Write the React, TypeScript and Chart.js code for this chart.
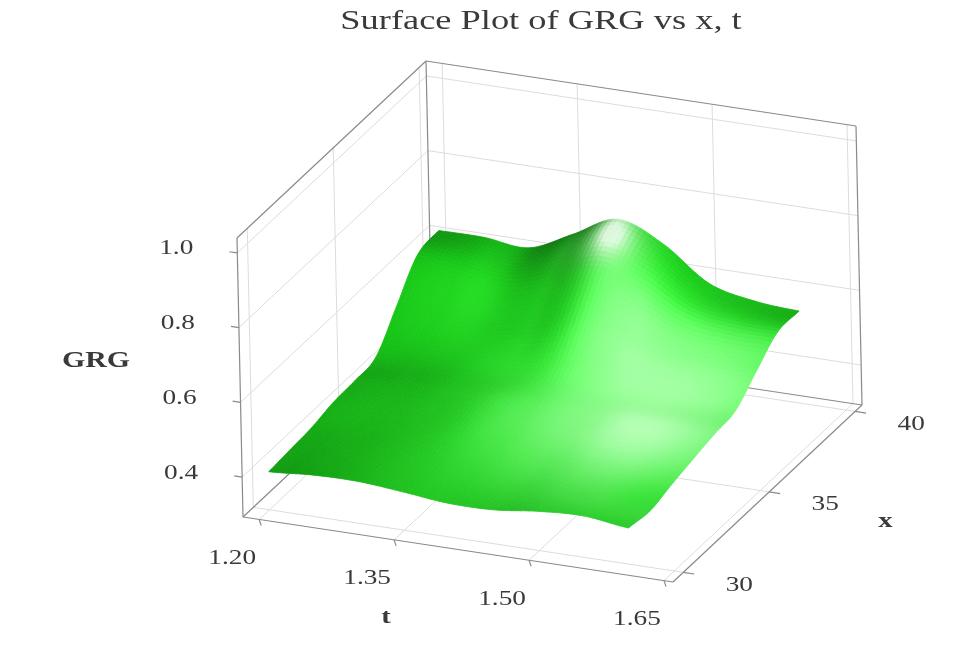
import { useEffect, useRef } from 'react';
import { Chart, registerables, type Plugin } from 'chart.js';

Chart.register(...registerables);

// ── Data ──────────────────────────────────────────────────────────────────────

const TITLE = 'Surface Plot of GRG vs x, t';

const T_VALUES = [1.2, 1.25, 1.3, 1.35, 1.4, 1.45, 1.5, 1.55, 1.6];
const X_VALUES = [30, 31.25, 32.5, 33.75, 35, 36.25, 37.5, 38.75, 40];

// GRG for each x row, one value per t in T_VALUES
const GRG_X30    = [0.395, 0.404, 0.405, 0.395, 0.383, 0.384, 0.398, 0.404, 0.390];
const GRG_X31_25 = [0.400, 0.404, 0.405, 0.399, 0.390, 0.388, 0.398, 0.400, 0.382];
const GRG_X32_5  = [0.405, 0.406, 0.409, 0.408, 0.400, 0.396, 0.404, 0.406, 0.398];
const GRG_X33_75 = [0.418, 0.415, 0.418, 0.422, 0.414, 0.410, 0.416, 0.416, 0.412];
const GRG_X35    = [0.422, 0.425, 0.432, 0.436, 0.430, 0.425, 0.430, 0.428, 0.425];
const GRG_X36_25 = [0.432, 0.440, 0.448, 0.452, 0.460, 0.452, 0.442, 0.436, 0.435];
const GRG_X37_5  = [0.515, 0.505, 0.498, 0.518, 0.552, 0.532, 0.498, 0.488, 0.488];
const GRG_X38_75 = [0.598, 0.585, 0.570, 0.605, 0.655, 0.625, 0.560, 0.540, 0.538];
const GRG_X40    = [0.610, 0.610, 0.600, 0.655, 0.713, 0.665, 0.578, 0.549, 0.540];

const GRG_ROWS = [GRG_X30, GRG_X31_25, GRG_X32_5, GRG_X33_75, GRG_X35, GRG_X36_25, GRG_X37_5, GRG_X38_75, GRG_X40];

const T_TICKS = [1.2, 1.35, 1.5, 1.65];
const X_TICKS = [30, 35, 40];
const Z_TICKS = [0.4, 0.6, 0.8, 1.0];

// ── Axis box and view ─────────────────────────────────────────────────────────

const T_RANGE = [1.182, 1.66];
const X_RANGE = [29.4, 40.4];
const Z_RANGE = [0.293, 1.04];

// projection of the unit box onto the view plane (view units = scale units)
const VIEW = {
  origin: [243, 517],
  tAxis:  [430, 65],
  xAxis:  [189, -177],
  zAxis:  [-6, -279],
};

const C = {
  text:  '#3a3a3a',
  edge:  '#8a8a8a',
  grid:  '#dcdcdc',
  green: [26, 236, 26],
};

const FONT = '"Liberation Serif", "Times New Roman", serif';
const STRETCH = 1.3;
const SUB = 10;

type V3 = [number, number, number];

const norm = (t: number, r: number[]) => (t - r[0]) / (r[1] - r[0]);

function project(t: number, x: number, z: number): [number, number] {
  const u = norm(t, T_RANGE), v = norm(x, X_RANGE), w = norm(z, Z_RANGE);
  return [
    VIEW.origin[0] + u * VIEW.tAxis[0] + v * VIEW.xAxis[0] + w * VIEW.zAxis[0],
    VIEW.origin[1] + u * VIEW.tAxis[1] + v * VIEW.xAxis[1] + w * VIEW.zAxis[1],
  ];
}

// Catmull-Rom smoothing between grid values (display only)
function cr(p0: number, p1: number, p2: number, p3: number, s: number) {
  return 0.5 * (2 * p1 + (p2 - p0) * s + (2 * p0 - 5 * p1 + 4 * p2 - p3) * s * s + (3 * p1 - p0 - 3 * p2 + p3) * s * s * s);
}

function along(vals: number[], f: number) {
  const n = vals.length;
  const i = Math.min(Math.floor(f), n - 2);
  const s = f - i;
  return cr(vals[Math.max(i - 1, 0)], vals[i], vals[i + 1], vals[Math.min(i + 2, n - 1)], s);
}

function sampleZ(fi: number, fj: number) {
  const col = GRG_ROWS.map((row) => along(row, fi));
  return along(col, fj);
}

function lerpAt(vals: number[], f: number) {
  const i = Math.min(Math.floor(f), vals.length - 2);
  return vals[i] + (f - i) * (vals[i + 1] - vals[i]);
}

const sub = (a: V3, b: V3): V3 => [a[0] - b[0], a[1] - b[1], a[2] - b[2]];
const dot = (a: V3, b: V3) => a[0] * b[0] + a[1] * b[1] + a[2] * b[2];
const unit = (a: V3): V3 => { const l = Math.hypot(a[0], a[1], a[2]) || 1; return [a[0] / l, a[1] / l, a[2] / l]; };

// lighting: sun from the front, a lamp over the right-centre, a small lamp just above the crest
const H_SCALE = 0.65;
const SUN = unit([0.5, -0.62, 0.62]);
const LAMP: V3 = [0.72, 0.45, 0.5];
const SPOT: V3 = [0.46, 0.88, 0.46];

function shade(p: V3, n: V3) {
  const dir = Math.max(0, dot(n, SUN));
  const lv = sub(LAMP, p);
  const d2 = dot(lv, lv);
  const cosP = Math.max(0, dot(n, unit(lv)));
  const k = 0.29 + 0.46 * dir + 0.62 * cosP / (1 + 2 * d2);
  const sv = sub(SPOT, p);
  const s2 = dot(sv, sv);
  const spot = 2.0 * Math.pow(Math.max(0, dot(n, unit(sv))), 2) * Math.exp(-s2 / 0.018);
  const glow = 1.1 * Math.pow(cosP, 4) * Math.exp(-d2 / 0.3);
  const white = Math.min(0.85, spot + glow);
  const c = C.green.map((g) => {
    const base = Math.min(255, g * k);
    return Math.round(base + (255 - base) * white);
  });
  return `rgb(${c[0]},${c[1]},${c[2]})`;
}

function drawText(ctx: CanvasRenderingContext2D, text: string, x: number, y: number, font: string, align: CanvasTextAlign) {
  ctx.save();
  ctx.translate(x, y);
  ctx.scale(STRETCH, 1);
  ctx.font = font;
  ctx.fillStyle = C.text;
  ctx.textAlign = align;
  ctx.textBaseline = 'middle';
  ctx.fillText(text, 0, 0);
  ctx.restore();
}

// ── Plugin drawing the 3D box and surface through the chart scales ────────────

const surfacePlugin: Plugin = {
  id: 'surface3d',
  afterDatasetsDraw(chart) {
    const { ctx } = chart;
    const sx = chart.scales.x, sy = chart.scales.y;
    const px = (p: [number, number]): [number, number] => [sx.getPixelForValue(p[0]), sy.getPixelForValue(p[1])];
    const P = (t: number, x: number, z: number) => px(project(t, x, z));

    const line = (a: [number, number], b: [number, number], color: string, w = 1) => {
      ctx.beginPath();
      ctx.moveTo(a[0], a[1]);
      ctx.lineTo(b[0], b[1]);
      ctx.strokeStyle = color;
      ctx.lineWidth = w;
      ctx.stroke();
    };

    const [t0, t1] = T_RANGE, [x0, x1] = X_RANGE, [z0, z1] = Z_RANGE;
    ctx.save();

    // grid on back wall, left wall and floor
    T_TICKS.forEach((t) => { line(P(t, x1, z0), P(t, x1, z1), C.grid); line(P(t, x0, z0), P(t, x1, z0), C.grid); });
    X_TICKS.forEach((x) => { line(P(t0, x, z0), P(t0, x, z1), C.grid); line(P(t0, x, z0), P(t1, x, z0), C.grid); });
    Z_TICKS.forEach((z) => { line(P(t0, x1, z), P(t1, x1, z), C.grid); line(P(t0, x0, z), P(t0, x1, z), C.grid); });

    // box edges
    const edges: [number, number, number][][] = [
      [[t0, x1, z1], [t1, x1, z1]], [[t1, x1, z1], [t1, x1, z0]], [[t0, x1, z1], [t0, x1, z0]], [[t0, x1, z0], [t1, x1, z0]],
      [[t0, x0, z1], [t0, x1, z1]], [[t0, x0, z1], [t0, x0, z0]], [[t0, x0, z0], [t0, x1, z0]],
      [[t0, x0, z0], [t1, x0, z0]], [[t1, x0, z0], [t1, x1, z0]],
    ];
    edges.forEach(([a, b]) => line(P(a[0], a[1], a[2]), P(b[0], b[1], b[2]), C.edge, 1.2));

    // ticks and labels
    const tDir = unit([VIEW.tAxis[0], VIEW.tAxis[1], 0]);
    const labelFont = `21px ${FONT}`;
    const nameFont = `bold 22px ${FONT}`;
    Z_TICKS.forEach((z) => {
      const a = P(t0, x0, z);
      line(a, [a[0] - tDir[0] * 8, a[1] - tDir[1] * 8], C.edge, 1.2);
      drawText(ctx, z.toFixed(1), a[0] - 44, a[1] - 4, labelFont, 'right');
    });
    T_TICKS.forEach((t) => {
      const a = P(t, x0, z0);
      line(a, [a[0] + 2, a[1] + 6], C.edge, 1.2);
      drawText(ctx, t.toFixed(2), a[0] - 27, a[1] + 39, labelFont, 'center');
    });
    X_TICKS.forEach((x) => {
      const a = P(t1, x, z0);
      line(a, [a[0] + tDir[0] * 11, a[1] + tDir[1] * 11], C.edge, 1.2);
      drawText(ctx, String(x), a[0] + 56, a[1] + 13, labelFont, 'center');
    });
    const tMid = P((t0 + t1) / 2, x0, z0);
    drawText(ctx, 't', tMid[0] - 72, tMid[1] + 68, nameFont, 'center');
    const xMid = P(t1, (x0 + x1) / 2, z0);
    drawText(ctx, 'x', xMid[0] + 118, xMid[1] + 28, nameFont, 'center');
    const zMid = P(t0, x0, (z0 + z1) / 2);
    drawText(ctx, 'GRG', zMid[0] - 144, zMid[1] - 16, `bold 23px ${FONT}`, 'center');

    // surface: smoothed mesh, painted back to front
    const nT = (T_VALUES.length - 1) * SUB + 1;
    const nX = (X_VALUES.length - 1) * SUB + 1;
    const world: V3[][] = [];
    const scr: [number, number][][] = [];
    for (let a = 0; a < nT; a++) {
      world.push([]); scr.push([]);
      for (let b = 0; b < nX; b++) {
        const fi = a / SUB, fj = b / SUB;
        const t = lerpAt(T_VALUES, fi), x = lerpAt(X_VALUES, fj);
        const z = sampleZ(fi, fj);
        world[a].push([norm(t, T_RANGE), norm(x, X_RANGE), norm(z, Z_RANGE) * H_SCALE]);
        scr[a].push(P(t, x, z));
      }
    }
    const normal = (a: number, b: number): V3 => {
      const aL = Math.max(a - 1, 0), aR = Math.min(a + 1, nT - 1);
      const bL = Math.max(b - 1, 0), bR = Math.min(b + 1, nX - 1);
      const du = sub(world[aR][b], world[aL][b]);
      const dv = sub(world[a][bR], world[a][bL]);
      return unit([du[1] * dv[2] - du[2] * dv[1], du[2] * dv[0] - du[0] * dv[2], du[0] * dv[1] - du[1] * dv[0]]);
    };
    const quads: { key: number; pts: [number, number][]; color: string }[] = [];
    for (let a = 0; a < nT - 1; a++) {
      for (let b = 0; b < nX - 1; b++) {
        const cs = [world[a][b], world[a + 1][b], world[a + 1][b + 1], world[a][b + 1]];
        const ctr: V3 = [0, 0, 0];
        for (let k = 0; k < 3; k++) ctr[k] = (cs[0][k] + cs[1][k] + cs[2][k] + cs[3][k]) / 4;
        const ns = [normal(a, b), normal(a + 1, b), normal(a, b + 1), normal(a + 1, b + 1)];
        const n = unit([0, 1, 2].map((k) => ns.reduce((s, v) => s + v[k], 0)) as V3);
        quads.push({
          key: ctr[0] * VIEW.tAxis[1] + ctr[1] * VIEW.xAxis[1],
          pts: [scr[a][b], scr[a + 1][b], scr[a + 1][b + 1], scr[a][b + 1]],
          color: shade(ctr, n),
        });
      }
    }
    quads.sort((p, q) => p.key - q.key);
    ctx.lineJoin = 'round';
    quads.forEach((q) => {
      ctx.beginPath();
      ctx.moveTo(q.pts[0][0], q.pts[0][1]);
      for (let k = 1; k < 4; k++) ctx.lineTo(q.pts[k][0], q.pts[k][1]);
      ctx.closePath();
      ctx.fillStyle = q.color;
      ctx.strokeStyle = q.color;
      ctx.lineWidth = 0.8;
      ctx.fill();
      ctx.stroke();
    });

    // title
    drawText(ctx, TITLE, 541, 22, `28px ${FONT}`, 'center');
    ctx.restore();
  },
};

// ── Component ─────────────────────────────────────────────────────────────────

export default function App() {
  const canvasRef = useRef<HTMLCanvasElement>(null);

  useEffect(() => {
    const canvas = canvasRef.current;
    if (!canvas) return;
    const chart = new Chart(canvas, {
      type: 'scatter',
      data: { datasets: [{ data: [], pointRadius: 0 }] },
      options: {
        responsive: true,
        maintainAspectRatio: false,
        animation: false,
        layout: { padding: 0 },
        plugins: { legend: { display: false }, tooltip: { enabled: false }, title: { display: false } },
        scales: {
          x: { type: 'linear', min: 0, max: 959, display: false },
          y: { type: 'linear', min: 0, max: 650, reverse: true, display: false },
        },
      },
      plugins: [surfacePlugin],
    });
    return () => chart.destroy();
  }, []);

  return (
    <div style={{ position: 'fixed', left: 0, top: 0, width: 959, height: 650, background: '#ffffff' }}>
      <canvas ref={canvasRef} />
    </div>
  );
}
